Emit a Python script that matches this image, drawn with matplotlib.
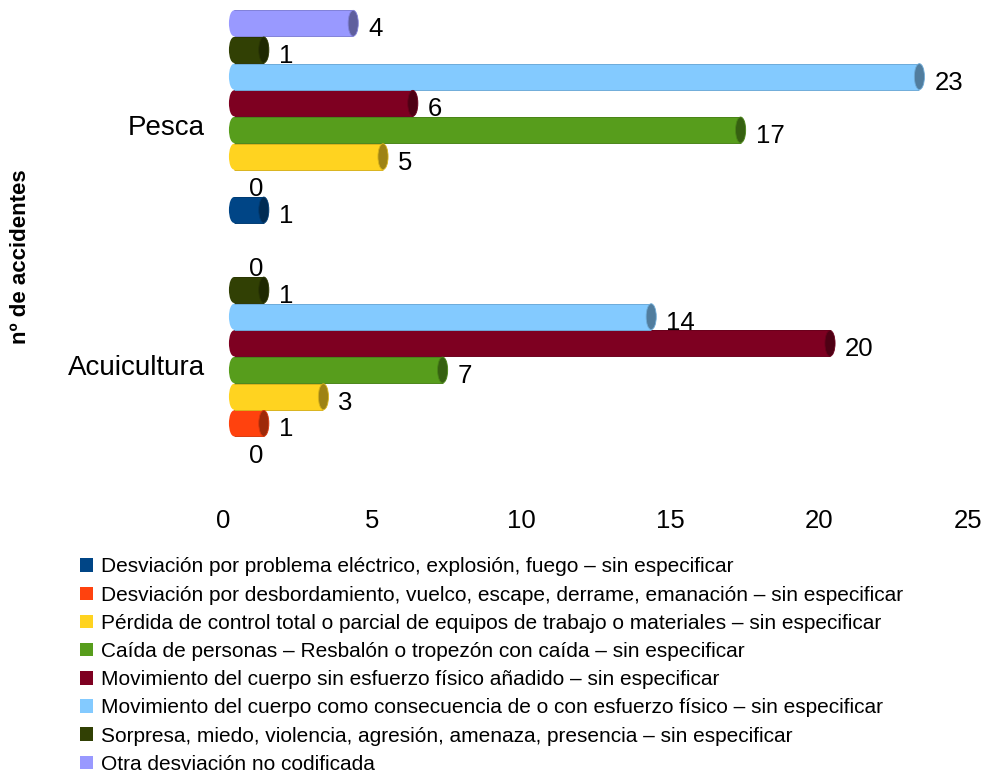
import matplotlib
matplotlib.use('Agg')
import matplotlib.pyplot as plt
import matplotlib.transforms as mtransforms
from matplotlib.patches import Ellipse, Patch
import numpy as np

plt.rcParams['font.family'] = ['Liberation Sans', 'DejaVu Sans']

categories = ['Acuicultura', 'Pesca']
series = [
    'Desviación por problema eléctrico, explosión, fuego – sin especificar',
    'Desviación por desbordamiento, vuelco, escape, derrame, emanación – sin especificar',
    'Pérdida de control total o parcial de equipos de trabajo o materiales – sin especificar',
    'Caída de personas – Resbalón o tropezón con caída – sin especificar',
    'Movimiento del cuerpo sin esfuerzo físico añadido – sin especificar',
    'Movimiento del cuerpo como consecuencia de o con esfuerzo físico – sin especificar',
    'Sorpresa, miedo, violencia, agresión, amenaza, presencia – sin especificar',
    'Otra desviación no codificada',
]
acuicultura = [0, 1, 3, 7, 20, 14, 1, 0]
pesca = [1, 0, 5, 17, 6, 23, 1, 4]
colors = ['#004586', '#ff420e', '#ffd320', '#579d1c',
          '#7e0021', '#83caff', '#314004', '#9999ff']
xticks = [0, 5, 10, 15, 20, 25]

values = [acuicultura, pesca]
n = len(series)

fig = plt.figure(figsize=(9.87, 7.75), dpi=100)
ax = fig.add_axes([234/987, 1 - 476.7/775, 745/987, 476.1/775])
ax.set_xlim(0, 25)
ax.set_ylim(-1, 16.85)

bar_h = 0.97
cap_w = 0.34  # ellipse width in data units (~10 px)


def darker(c, f=0.62):
    r, g, b = matplotlib.colors.to_rgb(c)
    return (r * f, g * f, b * f)


for g, vals in enumerate(values):
    base = g * (n + 1)
    for i, v in enumerate(vals):
        y = base + i
        col = colors[i]
        if v > 0:
            # left rounded end, body, darker end cap -> cylinder look
            ax.add_patch(Ellipse((0, y), cap_w, bar_h, facecolor=col,
                                 edgecolor='none', zorder=1, clip_on=False))
            ax.barh(y, v, height=bar_h, color=col, linewidth=0, zorder=2)
            ax.hlines([y - bar_h / 2, y + bar_h / 2], 0, v, colors=[darker(col, 0.85)],
                      linewidth=0.7, zorder=2)
            ax.add_patch(Ellipse((v, y), cap_w, bar_h, facecolor=darker(col),
                                 edgecolor=darker(col, 0.85), linewidth=0.6,
                                 zorder=3, clip_on=False))
        ax.annotate(str(v), (v, y), xytext=(15, -6), textcoords='offset pixels',
                    ha='left', va='center', fontsize=18.5, color='black')

ax.set_xticks(xticks)
ax.set_yticks([(n - 1) / 2 + g * (n + 1) for g in range(len(categories))])
ax.set_yticklabels(categories)
ax.tick_params(axis='x', length=0, labelsize=18.5, pad=23)
ax.tick_params(axis='y', length=0, labelsize=20, pad=21)
for lab in ax.get_xticklabels():
    lab.set_transform(lab.get_transform() +
                      mtransforms.ScaledTranslation(-11/100, 0, fig.dpi_scale_trans))
for lab in ax.get_yticklabels():
    lab.set_transform(lab.get_transform() +
                      mtransforms.ScaledTranslation(0, -8/100, fig.dpi_scale_trans))
for s in ax.spines.values():
    s.set_visible(False)

fig.text(21/987, 1 - 257/775, 'nº de accidentes', rotation=90, ha='center',
         va='center', fontsize=16, fontweight='bold')

handles = [Patch(facecolor=c, edgecolor='none') for c in colors]
fig.legend(handles, series, loc='upper left', bbox_to_anchor=(80/987, 1 - 557.5/775),
           frameon=False, fontsize=15, handlelength=0.625, handleheight=0.625,
           handletextpad=0.38, labelspacing=0.44, borderpad=0, borderaxespad=0)

fig.savefig('out.png', dpi=100)
